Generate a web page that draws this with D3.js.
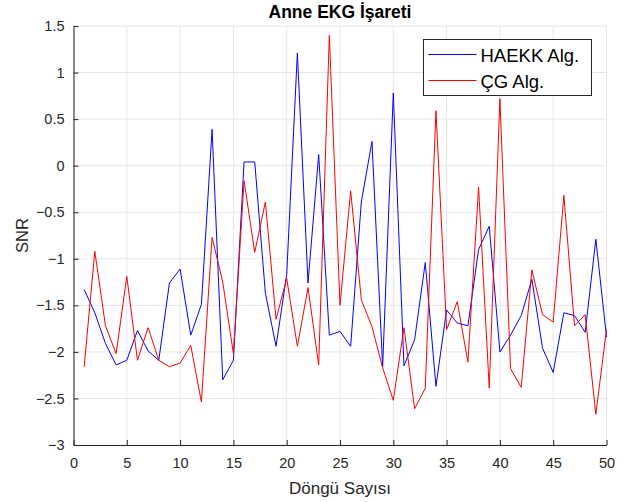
<!DOCTYPE html>
<html>
<head>
<meta charset="utf-8">
<script src="https://cdn.jsdelivr.net/npm/d3@7"></script>
<style>
body { margin: 0; background: #fff; }
text { font-family: "Liberation Sans", Arial, sans-serif; }
</style>
</head>
<body>
<div id="area"></div>
<script>
var width = 633;
var height = 502;

// Döngü sayısı 1..50
var cycles = d3.range(1, 51);

var haekk = [-1.33, -1.58, -1.91, -2.14, -2.09, -1.77, -1.99, -2.09, -1.26, -1.11,
             -1.82, -1.49, 0.39, -2.30, -2.09, 0.04, 0.04, -1.37, -1.94, -1.17,
             1.21, -1.26, 0.12, -1.82, -1.78, -1.94, -0.39, 0.26, -2.16, 0.78,
             -2.15, -1.87, -1.04, -2.37, -1.55, -1.69, -1.72, -0.90, -0.65, -2.00,
             -1.82, -1.61, -1.22, -1.96, -2.22, -1.58, -1.61, -1.79, -0.79, -1.84];

var cg = [-2.16, -0.92, -1.72, -2.02, -1.19, -2.09, -1.74, -2.09, -2.16, -2.12,
          -1.93, -2.54, -0.77, -1.25, -2.02, -0.16, -0.93, -0.39, -1.65, -1.21,
          -1.94, -1.31, -2.14, 1.40, -1.50, -0.27, -1.44, -1.73, -2.17, -2.52,
          -1.74, -2.61, -2.39, 0.59, -1.76, -1.46, -2.11, -0.23, -2.39, 0.72,
          -2.18, -2.38, -1.12, -1.60, -1.68, -0.32, -1.72, -1.60, -2.67, -1.76];

var xTicks = [0, 5, 10, 15, 20, 25, 30, 35, 40, 45, 50];
var yTicks = [-3, -2.5, -2, -1.5, -1, -0.5, 0, 0.5, 1, 1.5];

var series = [
    { name: "HAEKK Alg.", values: haekk, color: "#0000ff" },
    { name: "ÇG Alg.", values: cg, color: "#ff0000" }
];

var margin = { left: 73.5, right: 26.5, top: 26, bottom: 57 };

var x = d3.scaleLinear().domain([0, 50]).range([margin.left, width - margin.right]);
var y = d3.scaleLinear().domain([-3, 1.5]).range([height - margin.bottom, margin.top]);

var svg = d3.select("#area").append("svg")
    .attr("width", width)
    .attr("height", height);

// Izgara
svg.append("g")
    .selectAll("line.vg")
    .data(xTicks)
    .enter().append("line")
    .attr("x1", d => x(d)).attr("x2", d => x(d))
    .attr("y1", y(-3)).attr("y2", y(1.5))
    .attr("stroke", "#e6e6e6").attr("stroke-width", 1);

svg.append("g")
    .selectAll("line.hg")
    .data(yTicks)
    .enter().append("line")
    .attr("x1", x(0)).attr("x2", x(50))
    .attr("y1", d => y(d)).attr("y2", d => y(d))
    .attr("stroke", "#e6e6e6").attr("stroke-width", 1);

// Eksenler (tikler içeri dönük)
var xAxis = svg.append("g")
    .attr("transform", "translate(0," + y(-3) + ")")
    .call(d3.axisBottom(x).tickValues(xTicks).tickSizeInner(-5).tickSizeOuter(0).tickPadding(13));

var yAxis = svg.append("g")
    .attr("transform", "translate(" + x(0) + ",0)")
    .call(d3.axisLeft(y).tickValues(yTicks).tickSizeInner(-5).tickSizeOuter(0).tickPadding(9)
        .tickFormat(d3.format("")));

[xAxis, yAxis].forEach(function(a) {
    a.select(".domain").attr("stroke", "#262626");
    a.selectAll(".tick line").attr("stroke", "#262626");
    a.selectAll(".tick text")
        .attr("fill", "#262626")
        .style("font-size", "14.5px")
        .style("font-family", "'Liberation Sans', Arial, sans-serif");
});

// Çizgiler
var line = d3.line()
    .x((d, i) => x(cycles[i]))
    .y(d => y(d));

svg.append("g")
    .selectAll("path.series")
    .data(series)
    .enter().append("path")
    .attr("d", d => line(d.values))
    .attr("fill", "none")
    .attr("stroke", d => d.color)
    .attr("stroke-width", 1);

// Başlık ve eksen etiketleri
svg.append("text")
    .attr("x", (x(0) + x(50)) / 2)
    .attr("y", 18)
    .attr("text-anchor", "middle")
    .attr("font-weight", "bold")
    .attr("font-size", "17.5px")
    .attr("fill", "#000")
    .text("Anne EKG İşareti");

svg.append("text")
    .attr("x", (x(0) + x(50)) / 2)
    .attr("y", 494)
    .attr("text-anchor", "middle")
    .attr("font-size", "17px")
    .attr("fill", "#262626")
    .text("Döngü Sayısı");

svg.append("text")
    .attr("transform", "translate(28," + ((y(-3) + y(1.5)) / 2) + ") rotate(-90)")
    .attr("text-anchor", "middle")
    .attr("font-size", "16.5px")
    .attr("fill", "#262626")
    .text("SNR");

// Lejant
var legend = svg.append("g").attr("transform", "translate(423.5,39.5)");

legend.append("rect")
    .attr("width", 168)
    .attr("height", 56)
    .attr("fill", "#fff")
    .attr("stroke", "#262626")
    .attr("stroke-width", 1);

var item = legend.selectAll("g.item")
    .data(series)
    .enter().append("g")
    .attr("transform", (d, i) => "translate(0," + (15 + i * 26) + ")");

item.append("line")
    .attr("x1", 5).attr("x2", 53)
    .attr("stroke", d => d.color)
    .attr("stroke-width", 1);

item.append("text")
    .attr("x", 57)
    .attr("y", 7)
    .attr("font-size", "18.5px")
    .attr("fill", "#000")
    .text(d => d.name);
</script>
</body>
</html>
